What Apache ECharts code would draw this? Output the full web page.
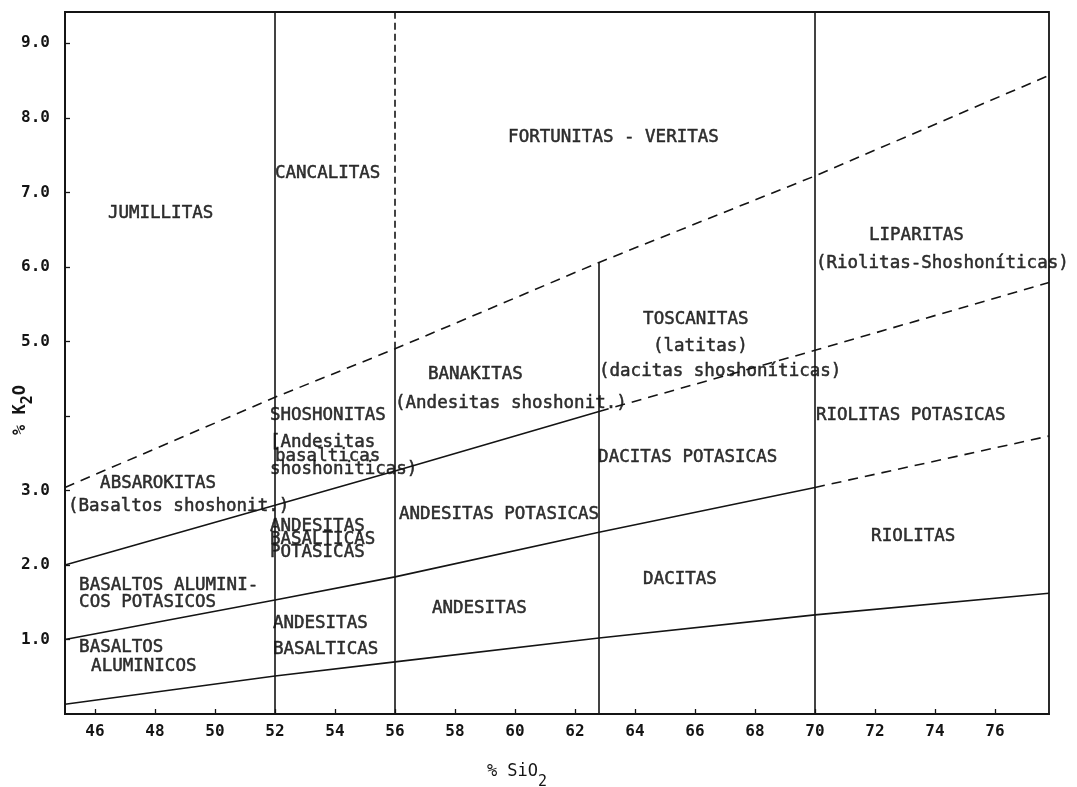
<!DOCTYPE html>
<html>
<head>
<meta charset="utf-8">
<script src="https://cdn.jsdelivr.net/npm/echarts@6/dist/echarts.min.js"></script>
<style>
  html, body { margin: 0; padding: 0; background: #ffffff; }
  #chart { width: 1077px; height: 787px; }
</style>
</head>
<body>
<div id="chart"></div>
<script>
// Axis ticks
const xTicks = [46, 48, 50, 52, 54, 56, 58, 60, 62, 64, 66, 68, 70, 72, 74, 76];
const yTicks = [1, 2, 3, 4, 5, 6, 7, 8, 9];
const yTickLabels = [1, 2, 3, 5, 6, 7, 8, 9];

// Field boundaries, points as [SiO2 %, K2O %]
const lowKLine = [[45, 0.13], [52, 0.51], [56, 0.70], [62.8, 1.02], [70, 1.33], [77.8, 1.62]];
const calcAlkLine = [[45, 1.0], [52, 1.53], [56, 1.84], [62.8, 2.44], [70, 3.04]];
const calcAlkExt = [[70, 3.04], [77.8, 3.73]];
const highKLine = [[45, 2.0], [52, 2.8], [56, 3.26], [62.8, 4.06]];
const highKExt = [[62.8, 4.06], [70, 4.88], [77.8, 5.79]];
const ultraKLine = [[45, 3.04], [52, 4.25], [56, 4.9], [62.8, 6.06], [70, 7.22], [77.8, 8.57]];

// Vertical SiO2 divisions
const div52 = [[52, 0], [52, 9.42]];
const div56 = [[56, 0], [56, 4.9]];
const div56Ext = [[56, 4.9], [56, 9.42]];
const div63 = [[62.8, 0], [62.8, 6.06]];
const div70 = [[70, 0], [70, 9.42]];

// Rock names: [SiO2, K2O, text] (text starts at the point)
const fieldNames = [
  [46.43, 6.72, 'JUMILLITAS'],
  [52.0, 7.26, 'CANCALITAS'],
  [59.77, 7.74, 'FORTUNITAS - VERITAS'],
  [71.8, 6.42, 'LIPARITAS'],
  [70.03, 6.05, '(Riolitas-Shoshoníticas)'],
  [64.27, 5.29, 'TOSCANITAS'],
  [64.6, 4.93, '(latitas)'],
  [62.8, 4.59, '(dacitas shoshoníticas)'],
  [57.1, 4.56, 'BANAKITAS'],
  [56.0, 4.17, '(Andesitas shoshonit.)'],
  [51.83, 4.01, 'SHOSHONITAS'],
  [51.83, 3.64, '[Andesitas'],
  [52.0, 3.45, 'basalticas'],
  [51.83, 3.28, 'shoshoniticas)'],
  [46.17, 3.10, 'ABSAROKITAS'],
  [45.1, 2.79, '(Basaltos shoshonit.)'],
  [51.83, 2.51, 'ANDESITAS'],
  [51.83, 2.34, 'BASALTICAS'],
  [51.83, 2.17, 'POTASICAS'],
  [56.13, 2.68, 'ANDESITAS POTASICAS'],
  [62.77, 3.44, 'DACITAS POTASICAS'],
  [70.03, 4.0, 'RIOLITAS POTASICAS'],
  [45.47, 1.73, 'BASALTOS ALUMINI-'],
  [45.47, 1.50, 'COS POTASICOS'],
  [45.47, 0.89, 'BASALTOS'],
  [45.87, 0.64, 'ALUMINICOS'],
  [51.93, 1.22, 'ANDESITAS'],
  [51.93, 0.86, 'BASALTICAS'],
  [57.23, 1.42, 'ANDESITAS'],
  [64.27, 1.80, 'DACITAS'],
  [71.87, 2.38, 'RIOLITAS']
];

const INK = '#141414';
const FONT = '"DejaVu Sans Mono", "Liberation Mono", monospace';

function boundary(data, dash) {
  return {
    type: 'line',
    data: data,
    symbol: 'none',
    silent: true,
    animation: false,
    lineStyle: { color: INK, width: 1.6, type: dash || 'solid' }
  };
}

const chart = echarts.init(document.getElementById('chart'), null, { renderer: 'canvas' });

chart.setOption({
  backgroundColor: '#ffffff',
  animation: false,
  grid: {
    left: 65, top: 12, right: 28, bottom: 73,
    outerBoundsMode: 'none',
    containLabel: false,
    show: true, borderColor: INK, borderWidth: 1.8, backgroundColor: 'transparent'
  },
  xAxis: {
    type: 'value',
    min: 45, max: 77.8,
    name: '% SiO{s|2}',
    nameLocation: 'middle',
    nameGap: 39,
    nameMoveOverlap: false,
    nameTextStyle: {
      fontFamily: FONT, fontSize: 17, color: INK,
      padding: [0, 80, 0, 0],
      rich: { s: { fontFamily: FONT, fontSize: 15, color: INK, padding: [22, 0, 0, 0] } }
    },
    axisLine: { show: true, lineStyle: { color: INK, width: 1.8 } },
    axisTick: { show: true, inside: true, length: 5, customValues: xTicks, lineStyle: { color: INK, width: 1.3 } },
    axisLabel: {
      customValues: xTicks, margin: 10,
      fontFamily: FONT, fontSize: 16, fontWeight: 'bold', color: INK
    },
    splitLine: { show: false }
  },
  yAxis: {
    type: 'value',
    min: 0, max: 9.42,
    name: '% K{s|2}O',
    nameLocation: 'middle',
    nameRotate: 90,
    nameGap: 29,
    nameMoveOverlap: false,
    nameTextStyle: {
      fontFamily: FONT, fontSize: 17, color: INK, fontWeight: 'bold',
      padding: [0, 94, 0, 0],
      rich: { s: { fontFamily: FONT, fontSize: 15, color: INK, fontWeight: 'bold', padding: [16, 0, 0, 0] } }
    },
    axisLine: { show: true, lineStyle: { color: INK, width: 1.8 } },
    axisTick: { show: true, inside: true, length: 5, customValues: yTicks, lineStyle: { color: INK, width: 1.3 } },
    axisLabel: {
      customValues: yTickLabels, margin: 15,
      fontFamily: FONT, fontSize: 16, fontWeight: 'bold', color: INK,
      formatter: v => v.toFixed(1)
    },
    splitLine: { show: false }
  },
  series: [
    boundary(lowKLine),
    boundary(calcAlkLine),
    boundary(calcAlkExt, [10, 7]),
    boundary(highKLine),
    boundary(highKExt, [10, 7]),
    boundary(ultraKLine, [10, 7]),
    boundary(div52),
    boundary(div56),
    boundary(div56Ext, [7, 4]),
    boundary(div63),
    boundary(div70),
    {
      type: 'scatter',
      silent: true,
      symbolSize: 0,
      data: fieldNames,
      clip: false,
      label: {
        show: true,
        position: 'inside',
        align: 'left',
        verticalAlign: 'middle',
        fontFamily: FONT,
        fontSize: 17.5,
        color: '#000',
        textBorderColor: '#000',
        textBorderWidth: 0.5,
        formatter: p => p.data[2]
      }
    }
  ]
});
</script>
</body>
</html>
